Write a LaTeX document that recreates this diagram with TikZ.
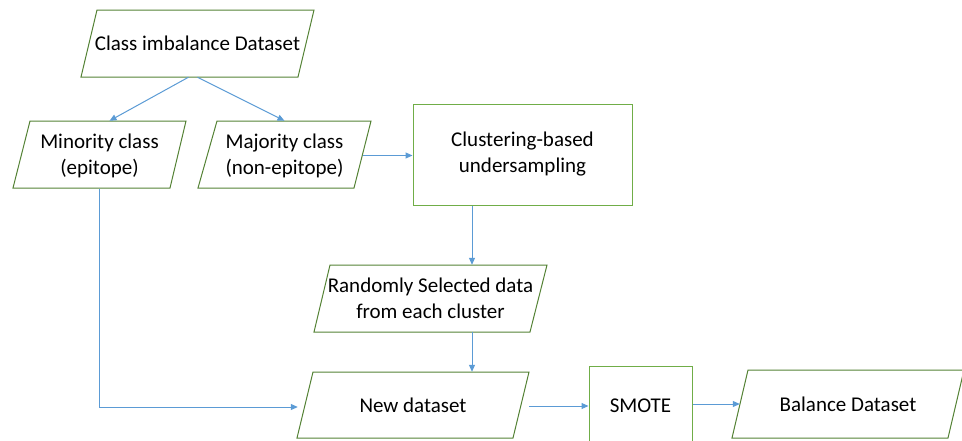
\documentclass[tikz,border=0pt]{standalone}
\usepackage{fontspec}
\setmainfont{Carlito}
\usetikzlibrary{arrows.meta,calc}
\definecolor{pgreen}{HTML}{548235}
\definecolor{rgreen}{HTML}{70AD47}
\definecolor{ablue}{HTML}{5B9BD5}
\tikzset{
  pshape/.style={draw=pgreen,line width=1pt},
  rshape/.style={draw=rgreen,line width=1pt},
  txt/.style={inner sep=0pt,align=center,font=\fontsize{21}{26}\selectfont},
  conn/.style={draw=ablue,line width=1pt,-{Triangle[length=7pt,width=6pt]}}
}
\begin{document}
\begin{tikzpicture}[x=1pt,y=-1pt]
\useasboundingbox (0,0) rectangle (962,440);
\clip (0,0) rectangle (962,440);
% Class imbalance Dataset
\draw[pshape] (97,10) -- (314,10) -- (298,77) -- (81,77) -- cycle;
\node[txt,minimum width=217,minimum height=67] (cid) at (197.5,43.5) {Class imbalance Dataset};
% Minority
\draw[pshape] (30,121) -- (186,121) -- (170,188) -- (13,188) -- cycle;
\node[txt,minimum width=157,minimum height=67] (min) at (99.5,155.5) {Minority class\\(epitope)};
% Majority
\draw[pshape] (217,121) -- (371,121) -- (354,188) -- (198,188) -- cycle;
\node[txt,minimum width=156,minimum height=67] (maj) at (284.5,155.5) {Majority class\\(non-epitope)};
% Clustering
\node[rshape,txt,minimum width=219,minimum height=101] (clu) at (522.5,154.5) {Clustering-based\\undersampling};
% Randomly selected
\draw[pshape] (330,265) -- (547,265) -- (530,332) -- (314,332) -- cycle;
\node[txt,minimum width=217,minimum height=67] (rnd) at (430.5,298.5) {Randomly Selected data\\from each cluster};
% New dataset
\draw[pshape] (313,372) -- (529,372) -- (513,438) -- (297,438) -- cycle;
\node[txt,minimum width=216,minimum height=66] (new) at (413,405) {New dataset};
% SMOTE
\node[rshape,txt,minimum width=103,minimum height=80] (smote) at (640.5,406) {SMOTE};
% Balance Dataset
\draw[pshape] (748,370) -- (964,370) -- (948,438) -- (732,438) -- cycle;
\node[txt,minimum width=216,minimum height=68] (bal) at (848,404) {Balance Dataset};
% connector guide
\coordinate (vx) at (472,0);
% connectors
\draw[conn] ([xshift=-9pt]cid.south) -- ([xshift=10pt,yshift=1pt]min.north);
\draw[conn] (cid.south) -- ([yshift=1pt]maj.north);
\draw[conn] (maj.east) -- (maj.east -| clu.west);
\draw[conn] (clu.south -| vx) -- (rnd.north -| vx);
\draw[conn] (rnd.south -| vx) -- (new.north -| vx);
\draw[conn] (min.south) |- ([xshift=-7pt,yshift=-2pt]new.west);
\draw[conn] ([xshift=8pt,yshift=-1pt]new.east) -- ([yshift=-1pt]new.east -| smote.west);
\draw[conn] ([yshift=2pt]smote.east) -- ([yshift=2pt]smote.east -| bal.west);
\end{tikzpicture}
\end{document}
